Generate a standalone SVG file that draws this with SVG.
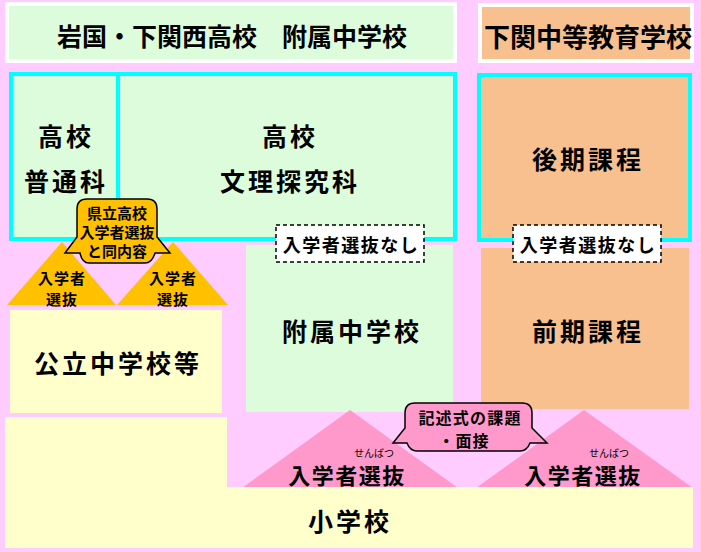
<svg xmlns="http://www.w3.org/2000/svg" width="701" height="552" viewBox="0 0 701 552">
<style>
text{font-family:"Noto Sans CJK JP","Noto Sans CJK SC",sans-serif;font-weight:bold;fill:#000;text-anchor:middle;dominant-baseline:central}
.big{font-size:25px;letter-spacing:3px}
.title{font-size:25px}
.mid{font-size:18px;letter-spacing:1.5px}
.sm{font-size:15px;letter-spacing:1px}
.cs{font-size:15px}
.ps{font-size:16px;letter-spacing:1.2px}
.sel{font-size:22px;letter-spacing:1.5px}
.ruby{font-size:10px;font-weight:normal}
.green{fill:#DDFCDC}
.orange{fill:#F9C08F}
.yellow{fill:#FFFFCC}
.cyan{stroke:#00FFFF;stroke-width:4}
.white{stroke:#FFFFFF;stroke-width:4}
.dash{fill:#FFFFFF;stroke:#000;stroke-width:1.5;stroke-dasharray:4 3}
.tri-o{fill:#FFC000}
.tri-p{fill:#FF99CC}
.call{stroke:#000;stroke-width:1.5}
</style>
<rect x="0" y="0" width="701" height="552" fill="#FFCCFF"/>

<g id="title-left">
<rect x="7" y="4" width="448" height="57" class="green white"/>
<text x="232" y="35" class="title">岩国・下関西高校　附属中学校</text>
</g>
<g id="title-right">
<rect x="480" y="5" width="212" height="56" class="orange white"/>
<text x="588" y="35" class="title" style="font-size:26px">下関中等教育学校</text>
</g>

<g id="high-school">
<rect x="11" y="74" width="444" height="165" class="green cyan"/>
<line x1="118" y1="74" x2="118" y2="239" class="cyan"/>
<text x="66" y="135" class="big">高校</text>
<text x="66" y="180" class="big">普通科</text>
<text x="290" y="135" class="big">高校</text>
<text x="290" y="180" class="big">文理探究科</text>
</g>

<g id="late-course">
<rect x="479" y="75" width="211" height="165" class="orange cyan"/>
<text x="588" y="158" class="big">後期課程</text>
</g>

<g id="attached-jhs">
<rect x="246" y="245" width="207" height="167" class="green"/>
<text x="352" y="330" class="big">附属中学校</text>
</g>

<g id="early-course">
<rect x="481" y="248" width="208" height="161" class="orange"/>
<text x="588" y="330" class="big">前期課程</text>
</g>

<g id="public-jhs">
<rect x="10" y="310" width="212" height="103" class="yellow"/>
<text x="118" y="362" class="big">公立中学校等</text>
</g>

<g id="connectors">
<g id="selection-left-1">
<polygon points="62,242 7,305 116,305" class="tri-o"/>
<text x="62" y="277" class="sm">入学者</text>
<text x="62" y="298" class="sm">選抜</text>
</g>
<g id="selection-left-2">
<polygon points="173,242 117,305 228,305" class="tri-o"/>
<text x="173" y="277" class="sm">入学者</text>
<text x="173" y="298" class="sm">選抜</text>
</g>
<g id="callout-prefectural">
<path d="M87 199 H147 Q157 199 157 209 V237 L170 253 H155 Q152 263 145 263 H89 Q82 263 80 253 H65 L77 237 V209 Q77 199 87 199 Z" class="tri-o call"/>
<text x="117" y="212" class="cs">県立高校</text>
<text x="117" y="231" class="cs">入学者選抜</text>
<text x="117" y="250" class="cs">と同内容</text>
</g>
<g id="no-selection-1">
<rect x="276" y="225" width="148" height="37" class="dash"/>
<text x="351" y="244" class="mid">入学者選抜なし</text>
</g>
<g id="no-selection-2">
<rect x="513" y="225" width="148" height="37" class="dash"/>
<text x="588" y="244" class="mid">入学者選抜なし</text>
</g>
<g id="selection-pink-1">
<polygon points="350,410 242,488 458,488" class="tri-p"/>
<text x="347" y="474" class="sel">入学者選抜</text>
<text x="374" y="452" class="ruby">せんばつ</text>
</g>
<g id="selection-pink-2">
<polygon points="584,410 476,488 693,488" class="tri-p"/>
<text x="583" y="474" class="sel">入学者選抜</text>
<text x="609" y="452" class="ruby">せんばつ</text>
</g>
<g id="callout-essay">
<path d="M415 403 H522 Q532 403 532 413 V428 L547 443 H530 Q527 451 520 451 H417 Q410 451 407 443 H393 L405 428 V413 Q405 403 415 403 Z" class="tri-p call"/>
<text x="470" y="417" class="ps">記述式の課題</text>
<text x="464" y="440" class="ps">・面接</text>
</g>
</g>

<g id="elementary">
<path d="M5 417 H227 V487 H693 V548 H5 Z" class="yellow"/>
<text x="350" y="520" class="big">小学校</text>
</g>
</svg>
